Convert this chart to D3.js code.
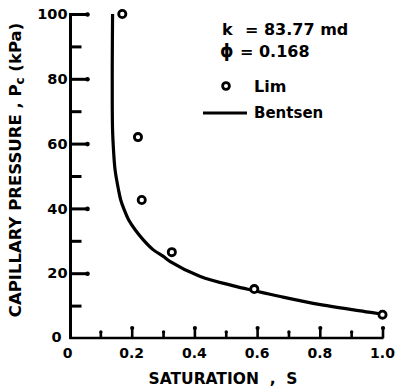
<!DOCTYPE html>
<html><head><meta charset="utf-8">
<script src="https://cdn.jsdelivr.net/npm/d3@7"></script>
<style>body{margin:0;background:#fff}svg{display:block}text{font-family:"DejaVu Sans",sans-serif;font-weight:bold;fill:#000}</style>
</head><body><svg id="c" width="395" height="387"></svg>
<script>
const limS  = [0.17, 0.22, 0.232, 0.328, 0.591, 1.0];
const limPc = [100, 62, 42.6, 26.5, 15.1, 7.2];
const bentsenS  = [0.139, 0.138, 0.138, 0.139, 0.142, 0.147, 0.158, 0.165, 0.176, 0.19, 0.211, 0.237, 0.269, 0.301, 0.323, 0.419, 0.525, 0.591, 0.674, 0.802, 0.962, 0.995];
const bentsenPc = [100, 85, 72, 64, 58, 51.9, 45.7, 42.6, 39.6, 36.5, 33.4, 30.3, 27.2, 25.2, 23.6, 19.0, 16.1, 14.6, 12.8, 10.3, 7.9, 7.4];
const xMajor = [0, 0.2, 0.4, 0.6, 0.8, 1.0];
const xMajorLabels = ["0", "0.2", "0.4", "0.6", "0.8", "1.0"];
const xMinor = [0.1, 0.3, 0.5, 0.7, 0.9];
const yMajor = [0, 20, 40, 60, 80, 100];
const yMinor = [10, 30, 50, 70, 90];

const svg = d3.select("#c");
const x = d3.scaleLinear().domain([0, 1]).range([69, 382.5]);
const y = d3.scaleLinear().domain([0, 100]).range([338, 14]);
const ax0 = 70.5;

// y ticks (inside, pointing right)
const yMaj = svg.append("g").attr("transform", `translate(${ax0},0)`)
  .call(d3.axisRight(y).tickValues(yMajor.filter(v => v > 0)).tickSize(18).tickFormat(""));
const yMin = svg.append("g").attr("transform", `translate(${ax0},0)`)
  .call(d3.axisRight(y).tickValues(yMinor).tickSize(11).tickFormat(""));
[yMaj, yMin].forEach(g => {
  g.select(".domain").remove();
  g.selectAll(".tick line").attr("stroke", "#000").attr("stroke-width", 3);
});
yMaj.selectAll(".tick").append("circle").attr("cx", 17).attr("cy", 0).attr("r", 2.3).attr("fill", "#000");

// x ticks (inside, pointing up)
const xMaj = svg.append("g").attr("transform", `translate(0,${y(0)})`)
  .call(d3.axisTop(x).tickValues(xMajor.filter(v => v > 0)).tickSize(11).tickFormat(""));
const xMin = svg.append("g").attr("transform", `translate(0,${y(0)})`)
  .call(d3.axisTop(x).tickValues(xMinor).tickSize(6).tickFormat(""));
[xMaj, xMin].forEach(g => {
  g.select(".domain").remove();
  g.selectAll(".tick line").attr("stroke", "#000").attr("stroke-width", 2.6);
});
xMaj.selectAll(".tick").append("circle").attr("cx", 0).attr("cy", -10).attr("r", 2.1).attr("fill", "#000");
xMin.selectAll(".tick").append("circle").attr("cx", 0).attr("cy", -6).attr("r", 1.7).attr("fill", "#000");

// axis lines
svg.append("line").attr("x1", ax0).attr("x2", ax0).attr("y1", y(100) - 1).attr("y2", y(0) + 1)
  .attr("stroke", "#000").attr("stroke-width", 3);
svg.append("line").attr("x1", ax0 - 1).attr("x2", x(1) + 1).attr("y1", y(0)).attr("y2", y(0))
  .attr("stroke", "#000").attr("stroke-width", 2.6);

// tick labels
svg.append("g").selectAll("text").data(yMajor).join("text")
  .attr("x", v => v === 0 ? ax0 - 9 : ax0 - 3).attr("y", v => v === 0 ? y(v) - 1 : y(v))
  .attr("dy", "0.36em").attr("text-anchor", "end").attr("font-size", 14.5).text(v => v);
svg.append("g").selectAll("text").data(xMajor).join("text")
  .attr("x", v => v === 0 ? x(v) - 1.5 : x(v)).attr("y", 357.5).attr("text-anchor", "middle")
  .attr("font-size", 14).text((v, i) => xMajorLabels[i]);

// axis titles
svg.append("text").attr("x", 223).attr("y", 384).attr("text-anchor", "middle").attr("font-size", 15.5)
  .attr("xml:space", "preserve").text("SATURATION  ,  S");
const yt = svg.append("text").attr("transform", "translate(21,170) rotate(-90)").attr("text-anchor", "middle")
  .attr("font-size", 16.5).attr("xml:space", "preserve");
yt.append("tspan").text("CAPILLARY PRESSURE , P");
yt.append("tspan").attr("font-size", 12).attr("dy", 3).text("c");
yt.append("tspan").attr("dy", -3).text(" (kPa)");

// Bentsen curve
const pts = bentsenS.map((s, i) => [s, bentsenPc[i]]);
svg.append("path").datum(pts)
  .attr("d", d3.line().x(d => x(d[0])).y(d => y(d[1])).curve(d3.curveCatmullRom.alpha(0.5)))
  .attr("fill", "none").attr("stroke", "#000").attr("stroke-width", 3.2);

// Lim points
svg.append("g").selectAll("circle").data(limS.map((s, i) => [s, limPc[i]])).join("circle")
  .attr("cx", d => x(d[0])).attr("cy", d => y(d[1])).attr("r", 3.6)
  .attr("fill", "#fff").attr("stroke", "#000").attr("stroke-width", 2.8);

// legend
const lg = svg.append("g");
lg.append("text").attr("x", 222).attr("y", 35).attr("font-size", 16).text("k");
lg.append("text").attr("x", 245).attr("y", 35).attr("font-size", 16).text("= 83.77 md");
lg.append("text").attr("x", 220).attr("y", 57).attr("font-size", 17).text("ϕ");
lg.append("text").attr("x", 240).attr("y", 57).attr("font-size", 16).text("= 0.168");
lg.append("circle").attr("cx", 226).attr("cy", 86).attr("r", 3.4).attr("fill", "#fff").attr("stroke", "#000").attr("stroke-width", 2.8);
lg.append("text").attr("x", 254).attr("y", 86).attr("dy", "0.36em").attr("font-size", 16).text("Lim");
lg.append("line").attr("x1", 203).attr("x2", 247).attr("y1", 113).attr("y2", 113).attr("stroke", "#000").attr("stroke-width", 3);
lg.append("text").attr("x", 254).attr("y", 113).attr("dy", "0.36em").attr("font-size", 15).text("Bentsen");
</script></body></html>
